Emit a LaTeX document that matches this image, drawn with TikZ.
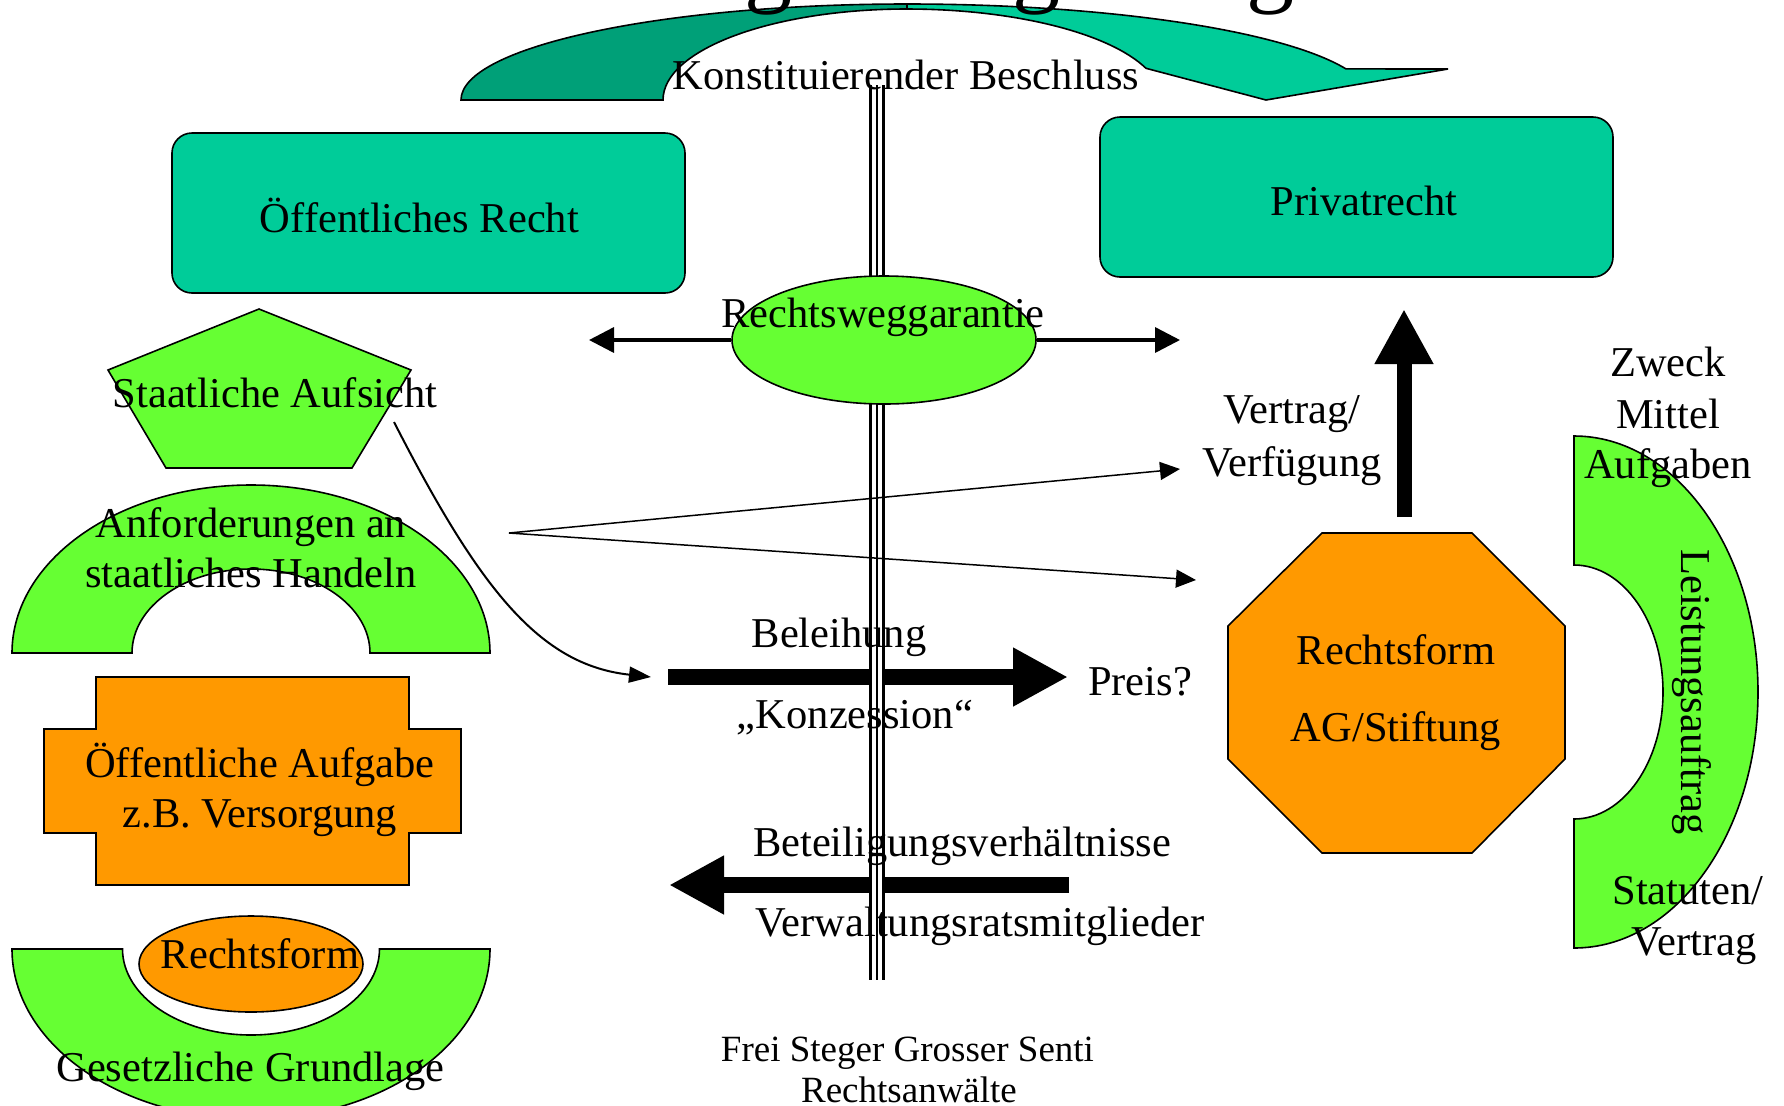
\documentclass[tikz,border=0pt]{standalone}
\usepackage{fontspec}
\setmainfont{Liberation Serif}
\usetikzlibrary{arrows.meta,shapes.geometric}
\definecolor{boxteal}{RGB}{0,204,153}
\definecolor{arcdark}{RGB}{0,160,120}
\definecolor{lgreen}{RGB}{102,255,51}
\definecolor{forange}{RGB}{255,153,0}
\newcommand\mainsz{\fontsize{21.25pt}{25pt}\selectfont}
\newcommand\footsz{\fontsize{18.5pt}{22pt}\selectfont}
\newcommand\titlesz{\fontsize{48pt}{56pt}\selectfont}
\begin{document}
\begin{tikzpicture}[x=0.5pt,y=-0.5pt,
  outl/.style={draw=black,line width=0.8pt},
  lbl/.style={inner sep=0pt,anchor=base,font=\mainsz},
  tealbox/.style={outl,fill=boxteal,rounded corners=10pt,minimum width=256.5pt,minimum height=80pt,inner sep=0pt},
  thinarrow/.style={line width=0.75pt,-{Triangle[length=10pt 0 0,width=9pt 0 0]}},
  blockarrow/.style={line width=8pt,-{Triangle[length=27.5pt 0 0,width=27.5pt 0 0]}},
  midarrow/.style={line width=1.75pt,-{Triangle[length=12.5pt 0 0,width=12.5pt 0 0]}},
]
\useasboundingbox (0,0) rectangle (1784,1105);
\fill[white] (0,0) rectangle (1784,1105);

% top curved arrow
\path[outl,fill=arcdark] (461,100) arc[start angle=180,end angle=270,x radius=446,y radius=96]
  -- (907,9) arc[start angle=270,end angle=180,x radius=244,y radius=91] -- cycle;
\path[outl,fill=boxteal] (907,4) arc[start angle=270,end angle=341.1,x radius=464,y radius=96]
  -- (1448,69) -- (1266,100) -- (1146,68.3)
  arc[start angle=339.6,end angle=270,x radius=255,y radius=91] -- cycle;

% fragments of the cut-off title
\node[inner sep=0pt,anchor=base,font=\titlesz] (tg1) at (768,-6) {g};
\node[inner sep=0pt,anchor=base,font=\titlesz] (tg2) at (1036,-6) {g};
\node[inner sep=0pt,anchor=base,font=\titlesz] (tg3) at (1270,-6) {g};

% boxes
\node[tealbox] (oer) at (428.5,213) {};
\node[tealbox] (pr) at (1356.5,197) {};

% thick arrows
\coordinate (belS) at (668,677); \coordinate (belE) at (1068,677);
\draw[blockarrow] (belS) -- (belE);
\coordinate (betS) at (1069,885); \coordinate (betE) at (669,885);
\draw[blockarrow] (betS) -- (betE);
\coordinate (upS) at (1404,517); \coordinate (upE) at (1404,309);
\draw[blockarrow,line width=7.5pt] (upS) -- (upE);

% double vertical line
\coordinate (vt) at (877,85); \coordinate (vb) at (877,980);
\draw[line width=8pt] (vt) -- (vb);
\draw[white,line width=5pt] (vt) -- (vb);
\draw[line width=1.25pt] (vt) -- (vb);

% Rechtsweggarantie
\node[ellipse,outl,fill=lgreen,minimum width=152pt,minimum height=64pt,inner sep=0pt] (rw) at (884,340) {};
\coordinate (rwL) at (589,340); \coordinate (rwR) at (1180,340);
\draw[midarrow] (rw.west) -- (rwL);
\draw[midarrow] (rw.east) -- (rwR);

% thin arrows
\coordinate (src) at (509,533);
\coordinate (t1) at (1180,469); \coordinate (t2) at (1196,580);
\draw[thinarrow] (src) -- (t1);
\draw[thinarrow] (src) -- (t2);

% pentagon
\path[outl,fill=lgreen] (259,309) -- (411,370) -- (352,468) -- (166,468) -- (108,370) -- cycle;
% curved arrow
\coordinate (cs) at (394,422); \coordinate (ce) at (651,677);
\draw[line width=1pt,-{Triangle[length=11pt 0 0,width=8pt 0 0]}] (cs) .. controls (480,590) and (540,665) .. (ce);

% arch
\path[outl,fill=lgreen] (12,653) arc[start angle=180,end angle=360,x radius=239,y radius=168]
  -- (370,653) arc[start angle=0,end angle=-180,x radius=119,y radius=84] -- cycle;

% cross
\path[outl,fill=forange] (96,677) -- (409,677) -- (409,729) -- (461,729) -- (461,833) -- (409,833)
  -- (409,885) -- (96,885) -- (96,833) -- (44,833) -- (44,729) -- (96,729) -- cycle;

% bottom U band
\path[outl,fill=lgreen] (12,949) arc[start angle=180,end angle=0,x radius=239,y radius=170]
  -- (379.5,949) arc[start angle=0,end angle=180,x radius=128.5,y radius=86] -- cycle;
\node[ellipse,outl,fill=forange,minimum width=112pt,minimum height=48pt,inner sep=0pt] (rf2) at (251,964) {};

% octagon
\path[outl,fill=forange] (1322,533) -- (1472,533) -- (1565,626) -- (1565,759) -- (1472,853)
  -- (1322,853) -- (1228,759) -- (1228,626) -- cycle;

% right band
\path[outl,fill=lgreen] (1574,436) arc[start angle=-90,end angle=90,x radius=184,y radius=256]
  -- (1574,819) arc[start angle=90,end angle=-90,x radius=89,y radius=127] -- cycle;

% texts
\node[lbl] (tKB) at (906,89) {Konstituierender Beschluss};
\node[lbl] (tOR) at (419.5,232) {Öffentliches Recht};
\node[lbl] (tPR) at (1364,215) {Privatrecht};
\node[lbl] (tRW) at (883,327) {Rechtsweggarantie};
\node[lbl] (tSA) at (275,407) {Staatliche Aufsicht};
\node[lbl] (tV1) at (1292,423) {Vertrag/};
\node[lbl] (tV2) at (1292,476) {Verfügung};
\node[lbl] (tZ1) at (1668,376) {Zweck};
\node[lbl] (tZ2) at (1668,428) {Mittel};
\node[lbl] (tZ3) at (1668,478) {Aufgaben};
\node[lbl] (tA1) at (251,537) {Anforderungen an};
\node[lbl] (tA2) at (251,587) {staatliches Handeln};
\node[lbl] (tBel) at (839,647) {Beleihung};
\node[lbl] (tKon) at (855,728) {„Konzession“};
\node[lbl] (tPreis) at (1140,695) {Preis?};
\node[lbl] (tRF1) at (1396,664) {Rechtsform};
\node[lbl] (tRF2) at (1396,741) {AG/Stiftung};
\node[lbl,rotate=-90] (tLA) at (1681,692) {Leistungsauftrag};
\node[lbl] (tSt1) at (1688,904) {Statuten/};
\node[lbl] (tSt2) at (1694,955) {Vertrag};
\node[lbl] (tOA1) at (260,777) {Öffentliche Aufgabe};
\node[lbl] (tOA2) at (260,827) {z.B. Versorgung};
\node[lbl] (tRF3) at (260,968) {Rechtsform};
\node[lbl] (tGG) at (250.5,1081) {Gesetzliche Grundlage};
\node[lbl] (tBet) at (962,856) {Beteiligungsverhältnisse};
\node[lbl] (tVer) at (980,936) {Verwaltungsratsmitglieder};
\node[lbl,font=\footsz] (tF1) at (907.5,1061) {Frei Steger Grosser Senti};
\node[lbl,font=\footsz] (tF2) at (909,1102) {Rechtsanwälte};
\end{tikzpicture}
\end{document}
